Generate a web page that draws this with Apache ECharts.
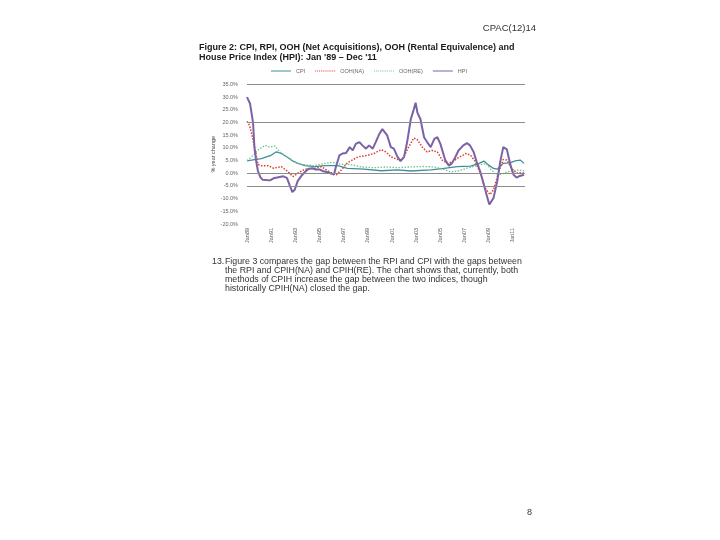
<!DOCTYPE html>
<html><head><meta charset="utf-8">
<script src="https://cdn.jsdelivr.net/npm/echarts@6/dist/echarts.min.js"></script>
<style>html,body{margin:0;padding:0;background:#fff}#c{width:720px;height:540px}</style>
</head><body><div id="c"></div>
<script>
// ---- data (decimal year, % year change) ----
const xTickLabels = ['Jan89','Jan91','Jan93','Jan95','Jan97','Jan99','Jan01','Jan03','Jan05','Jan07','Jan09','Jan11'];
const visibleGridValues = [35, 20, 0, -5];

const cpiYears  = [1989.0,1989.5,1990.2,1990.6,1991.0,1991.4,1991.85,1992.4,1992.8,1993.2,1993.8,1994.6,1995.4,1996.5,1997.3,1998.7,2000.1,2001.5,2002.55,2004.2,2005.3,2006.4,2007.5,2008.2,2008.6,2009.0,2009.4,2009.7,2010.2,2010.75,2011.2,2011.6,2011.92];
const cpiValues = [4.9,5.3,5.8,6.5,7.1,8.4,7.8,6.1,4.8,3.9,3.0,2.6,3.0,3.0,1.9,1.6,1.0,1.3,0.9,1.3,1.9,2.6,2.8,3.9,4.8,3.2,1.9,1.6,3.9,4.1,4.9,5.2,3.9];

const oohNaYears  = [1989.0,1989.2,1989.35,1989.55,1989.66,1989.9,1990.2,1990.75,1991.2,1991.85,1992.4,1992.8,1993.4,1993.8,1994.6,1995.15,1995.8,1996.4,1996.8,1997.3,1998.2,1999.0,1999.5,2000.1,2000.5,2000.9,2001.6,2001.9,2002.3,2002.8,2003.1,2003.5,2003.9,2004.3,2004.75,2005.15,2005.6,2006.0,2006.5,2007.1,2007.5,2007.9,2008.3,2008.7,2009.1,2009.4,2009.8,2010.2,2010.5,2010.9,2011.3,2011.75,2011.92];
const oohNaValues = [20.5,19.0,16.3,12.0,9.8,3.5,3.0,3.0,2.0,2.6,0.6,-1.3,0.6,1.6,1.9,2.6,0.6,-0.6,1.3,4.1,6.5,7.1,7.8,9.3,8.4,6.5,5.2,5.8,9.7,13.9,13.2,10.3,8.4,9.0,8.4,5.2,3.9,4.5,6.2,7.8,7.1,4.5,0.0,-5.8,-8.4,-6.5,0.0,5.4,5.2,1.9,0.0,0.3,0.0];

const oohReYears  = [1989.0,1989.5,1990.0,1990.5,1990.9,1991.3,1991.7,1992.4,1992.9,1993.5,1994.5,1995.4,1996.0,1996.8,1997.5,1998.5,1999.5,2000.5,2001.5,2002.5,2003.5,2004.5,2005.3,2005.8,2006.4,2007.2,2007.8,2008.4,2008.8,2009.2,2009.6,2010.0,2010.5,2011.0,2011.5,2011.92];
const oohReValues = [5.0,7.0,9.5,11.0,10.3,10.8,8.4,6.2,4.5,3.5,3.0,3.8,4.3,3.5,3.5,2.5,2.2,2.5,2.2,2.5,2.7,2.5,1.5,0.6,0.8,2.0,2.8,3.5,3.8,1.5,-0.6,-0.5,0.5,1.0,1.3,1.0];

const hpiYears  = [1989.0,1989.15,1989.25,1989.4,1989.5,1989.62,1989.75,1989.9,1990.1,1990.3,1990.9,1991.2,1991.7,1992.0,1992.3,1992.55,1992.75,1992.95,1993.2,1993.5,1993.8,1994.1,1994.4,1994.7,1995.0,1995.3,1995.6,1995.9,1996.2,1996.35,1996.65,1996.9,1997.2,1997.5,1997.75,1998.0,1998.3,1998.55,1998.85,1999.1,1999.4,1999.65,1999.95,2000.2,2000.35,2000.6,2000.9,2001.15,2001.45,2001.7,2002.0,2002.25,2002.55,2002.8,2002.95,2003.1,2003.35,2003.65,2003.9,2004.2,2004.5,2004.75,2005.0,2005.2,2005.4,2005.7,2005.95,2006.25,2006.5,2006.9,2007.2,2007.45,2007.75,2008.0,2008.3,2008.6,2008.85,2009.05,2009.2,2009.4,2009.7,2009.95,2010.2,2010.5,2010.8,2011.05,2011.3,2011.5,2011.92];
const hpiValues = [30.0,29.5,27.5,27.0,20.0,10.0,5.0,1.0,-1.5,-2.6,-2.8,-2.0,-1.5,-1.2,-1.8,-5.0,-7.4,-6.5,-3.0,-1.0,0.5,1.8,2.0,1.5,1.5,0.8,0.5,0.0,-0.5,2.5,7.1,7.8,8.0,10.3,9.0,11.6,12.3,11.0,9.7,11.0,9.7,12.3,15.5,17.4,16.8,14.9,10.3,9.7,6.5,4.8,6.5,12.3,21.3,25.2,27.8,23.9,21.3,14.2,12.3,10.3,13.6,14.2,11.6,8.4,5.2,3.0,3.9,6.5,9.0,11.0,11.9,11.0,8.4,4.5,0.6,-4.5,-9.0,-12.3,-12.9,-9.7,-3.2,4.5,10.3,9.4,3.2,-0.6,-1.7,-1.2,-0.6];

// ---- helpers ----
function toPairs(years, values){ return years.map((y,i)=>[Math.round((y-1989)*12*10)/10, values[i]]); }
const solidIcon = 'path://M0,0h20v1h-20z';
const dottedIcon = 'path://M0,0h1v1h-1z M2,0h1v1h-1z M4,0h1v1h-1z M6,0h1v1h-1z M8,0h1v1h-1z M10,0h1v1h-1z M12,0h1v1h-1z M14,0h1v1h-1z M16,0h1v1h-1z M18,0h1v1h-1z M20,0h1v1h-1z';

const chart = echarts.init(document.getElementById('c'), null, {renderer:'canvas'});
const font = 'Liberation Sans, Arial, sans-serif';
chart.setOption({
  animation:false,
  backgroundColor:'#ffffff',
  textStyle:{fontFamily:font},
  grid:{left:247, right:195, top:84.5, bottom:316, containLabel:false},
  legend:{
    left:266, top:63, itemWidth:20, itemHeight:1.6, itemGap:10,
    textStyle:{fontSize:5.5, color:'#666', fontFamily:font},
    data:[
      {name:'CPI', icon:solidIcon},
      {name:'OOH(NA)', icon:dottedIcon},
      {name:'OOH(RE)', icon:dottedIcon},
      {name:'HPI', icon:solidIcon}
    ]
  },
  xAxis:{
    type:'value', min:0, max:276, interval:24,
    axisLine:{show:false}, axisTick:{show:false}, splitLine:{show:false},
    axisLabel:{rotate:90, fontSize:5.5, color:'#555', margin:4,
      formatter:v => (v % 24 === 0 && xTickLabels[v/24]) ? xTickLabels[v/24] : ''}
  },
  yAxis:{
    type:'value', min:-20, max:35, interval:5,
    name:'% year change', nameLocation:'middle', nameGap:24, nameRotate:90,
    nameTextStyle:{fontSize:5.5, color:'#444', fontFamily:font},
    axisLine:{show:false}, axisTick:{show:false}, splitLine:{show:false},
    axisLabel:{fontSize:5.5, color:'#666', margin:9, formatter:v => v.toFixed(1)+'%'}
  },
  series:[
    {name:'CPI', type:'line', symbol:'none', data:toPairs(cpiYears,cpiValues),
     lineStyle:{color:'#3f8f9a', width:1.3}, itemStyle:{color:'#3f8f9a'}, z:2,
     markLine:{silent:true, symbol:'none', label:{show:false},
       lineStyle:{color:'#8c8c8c', width:1, type:'solid'},
       data:visibleGridValues.map(v=>({yAxis:v}))}},
    {name:'OOH(NA)', type:'line', symbol:'none', data:toPairs(oohNaYears,oohNaValues),
     lineStyle:{color:'#e03a2a', width:1.5, type:[1.5,1.5]}, itemStyle:{color:'#e03a2a'}, z:3},
    {name:'OOH(RE)', type:'line', symbol:'none', data:toPairs(oohReYears,oohReValues),
     lineStyle:{color:'#72c08a', width:1.3, type:[1.5,1.5]}, itemStyle:{color:'#72c08a'}, z:3},
    {name:'HPI', type:'line', symbol:'none', data:toPairs(hpiYears,hpiValues),
     lineStyle:{color:'#7a62a6', width:2}, itemStyle:{color:'#7a62a6'}, z:4}
  ],
  graphic:[
    {type:'text', right:184, top:23, style:{text:'CPAC(12)14', font:'9.5px '+font, fill:'#333'}},
    {type:'text', left:199, top:43.5, style:{text:'Figure 2: CPI, RPI, OOH (Net Acquisitions), OOH (Rental Equivalence) and', font:'bold 9px '+font, fill:'#1a1a1a'}},
    {type:'text', left:199, top:53, style:{text:"House Price Index (HPI): Jan '89 \u2013 Dec '11", font:'bold 9px '+font, fill:'#1a1a1a'}},
    {type:'text', left:212, top:257.5, style:{text:'13.', font:'8.8px '+font, fill:'#333'}},
    {type:'text', left:225, top:257.5, style:{text:'Figure 3 compares the gap between the RPI and CPI with the gaps between', font:'8.8px '+font, fill:'#333'}},
    {type:'text', left:225, top:266.5, style:{text:'the RPI and CPIH(NA) and CPIH(RE). The chart shows that, currently, both', font:'8.8px '+font, fill:'#333'}},
    {type:'text', left:225, top:275.5, style:{text:'methods of CPIH increase the gap between the two indices, though', font:'8.8px '+font, fill:'#333'}},
    {type:'text', left:225, top:284.5, style:{text:'historically CPIH(NA) closed the gap.', font:'8.8px '+font, fill:'#333'}},
    {type:'text', left:527, top:508, style:{text:'8', font:'9px '+font, fill:'#333'}}
  ]
});
</script></body></html>
